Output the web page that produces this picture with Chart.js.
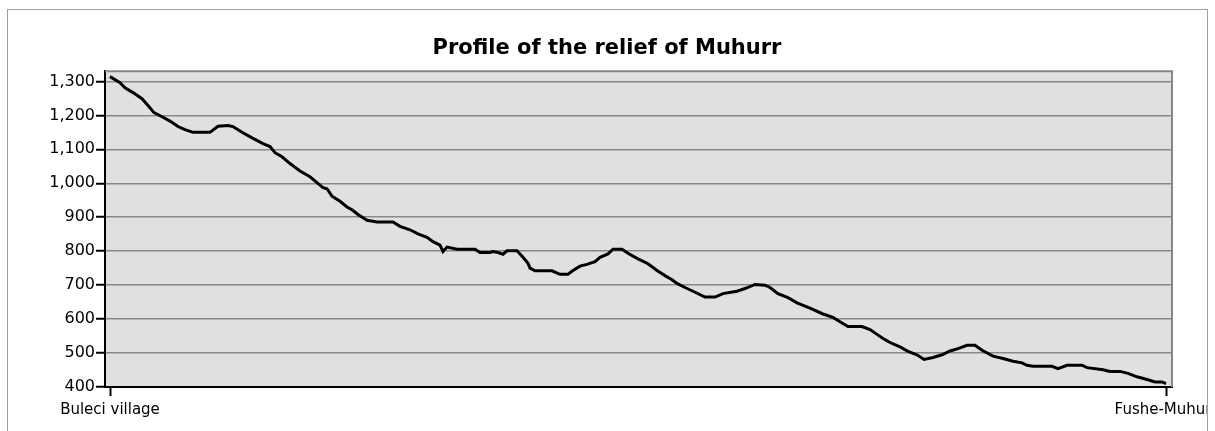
<!DOCTYPE html>
<html>
<head>
<meta charset="utf-8">
<script src="https://cdn.jsdelivr.net/npm/chart.js@4/dist/chart.umd.min.js"></script>
<style>
  html, body { margin: 0; padding: 0; background: #fff; width: 1215px; height: 431px; overflow: hidden; }
  #frame { position: absolute; left: 7px; top: 9px; width: 1199px; height: 440px;
           border: 1px solid #a0a0a0; border-bottom: none; overflow: hidden; }
  #c { position: absolute; left: -8px; top: -10px; }
</style>
</head>
<body>
<div id="frame"><canvas id="c" width="1260" height="431"></canvas></div>
<script>
const chartTitle = 'Profile of the relief of Muhurr';
// distance along the profile (arbitrary units) and elevation (m)
const distance = [0,10,15,23,32,38,44,52,60,68,75,83,100,108,118,123,132,143,153,160,165,172,180,190,200,207,213,217,222,230,237,242,248,257,267,283,290,300,308,317,323,330,333,337,347,365,370,380,383,388,393,397,407,413,418,420,425,442,450,458,463,470,477,485,490,498,503,512,518,527,538,547,555,562,567,575,583,595,605,613,627,635,645,655,660,668,678,687,700,713,723,730,738,752,760,767,773,780,790,798,807,814,823,832,840,848,857,865,872,883,893,903,912,917,923,942,948,957,972,977,993,1000,1010,1018,1027,1037,1045,1052,1056];
const elevation = [1314,1296,1281,1267,1249,1229,1208,1196,1183,1167,1158,1150,1150,1168,1170,1167,1150,1132,1117,1108,1090,1078,1058,1036,1019,1002,987,984,962,947,930,922,908,891,886,886,873,863,851,841,828,818,799,812,806,806,796,796,799,796,791,801,801,782,764,750,742,742,732,732,743,756,761,769,782,792,806,806,794,779,763,743,728,716,705,693,682,665,665,675,682,690,702,700,693,675,663,648,632,615,605,592,578,578,569,555,543,531,518,505,495,481,487,495,506,513,523,523,508,491,484,476,471,464,461,461,454,464,464,457,451,446,446,440,430,422,415,415,410];
const yTickValues = [400,500,600,700,800,900,1000,1100,1200,1300];
const xTickPositions = [0, 1056];
const xTickLabels = ['Buleci village', 'Fushe-Muhurr'];

const plotFrame = {
  id: 'plotFrame',
  beforeDraw(chart) {
    const a = chart.chartArea, ctx = chart.ctx;
    ctx.save();
    ctx.fillStyle = '#e0e0e0';
    ctx.fillRect(a.left, a.top, a.right - a.left, a.bottom - a.top);
    ctx.restore();
  },
  beforeDatasetsDraw(chart) {
    const a = chart.chartArea, ctx = chart.ctx;
    ctx.save();
    ctx.strokeStyle = '#888';
    ctx.lineWidth = 2;
    ctx.beginPath();
    ctx.moveTo(a.left, a.top);
    ctx.lineTo(a.right, a.top);
    ctx.lineTo(a.right, a.bottom);
    ctx.stroke();
    ctx.restore();
  }
};

new Chart(document.getElementById('c'), {
  type: 'line',
  data: {
    datasets: [{
      data: distance.map((d, i) => ({ x: d, y: elevation[i] })),
      borderColor: '#000',
      borderWidth: 3,
      pointRadius: 0,
      tension: 0,
      fill: false
    }]
  },
  options: {
    responsive: false,
    animation: false,
    devicePixelRatio: 1,
    layout: { padding: { left: 42, right: 88, top: 0, bottom: 0 } },
    plugins: {
      legend: { display: false },
      tooltip: { enabled: false },
      title: {
        display: true,
        text: chartTitle,
        color: '#000',
        font: { family: 'DejaVu Sans', size: 21, weight: 'bold' },
        padding: { top: 36, bottom: 10 }
      }
    },
    scales: {
      x: {
        type: 'linear',
        min: -5,
        max: 1062,
        afterBuildTicks: s => { s.ticks = xTickPositions.map(v => ({ value: v })); },
        ticks: {
          autoSkip: false, maxRotation: 0, minRotation: 0,
          color: '#000',
          font: { family: 'DejaVu Sans', size: 15 },
          padding: 5,
          callback: (v, i) => xTickLabels[i]
        },
        grid: { drawOnChartArea: false, tickLength: 9, tickColor: '#000', tickWidth: 2 },
        border: { color: '#000', width: 2 },
        afterFit: s => { s.height = 44; }
      },
      y: {
        min: 400,
        max: 1330,
        afterBuildTicks: s => { s.ticks = yTickValues.map(v => ({ value: v })); },
        ticks: {
          color: '#000',
          font: { family: 'DejaVu Sans', size: 16 },
          padding: 1,
          callback: v => v.toLocaleString('en-US')
        },
        grid: { color: '#888', lineWidth: 1.5, tickColor: '#000', tickLength: 9, tickWidth: 2 },
        border: { color: '#000', width: 2 },
        afterFit: s => { s.width = 63; }
      }
    }
  },
  plugins: [plotFrame]
});
</script>
</body>
</html>
